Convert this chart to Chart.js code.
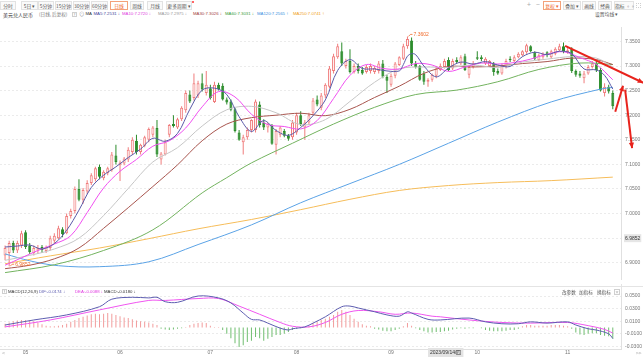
<!DOCTYPE html>
<html lang="zh-CN">
<head>
<meta charset="utf-8">
<title>美元兑人民币 日线</title>
<script src="https://cdn.jsdelivr.net/npm/chart.js@4.4.1/dist/chart.umd.min.js"></script>
<style>
  html, body { margin:0; padding:0; background:#fff; }
  body { width:643px; height:358px; position:relative; overflow:hidden;
         font-family:"Noto Sans CJK SC","Noto Sans",sans-serif; color:#333; }
  .a { position:absolute; white-space:nowrap; line-height:1; }
  .tab { position:absolute; top:1px; height:9px; box-sizing:border-box; border:1px solid #e2e2e2;
         background:#fafafa; font-size:4.8px; line-height:7px; color:#555; text-align:center; white-space:nowrap; }
  .sel { border-color:#f3a27a; color:#ef6428; background:#fff; }
  .leg { position:absolute; top:12px; font-family:"Liberation Sans",Arial,sans-serif; font-size:4.3px; line-height:1; white-space:nowrap; }
  .box { position:absolute; box-sizing:border-box; border:1px solid #cfcfcf; font-size:4px; line-height:3px; text-align:center; color:#888; }
  canvas { position:absolute; left:0; }
  .ln { position:absolute; background:#e4e4e4; }
</style>
</head>
<body>
<!-- toolbar -->
<div class="tab" style="left:0;width:16px">分时</div>
<div class="tab" style="left:21px;width:17px">5日 ▾</div>
<div class="tab" style="left:38px;width:16px">5分钟</div>
<div class="tab" style="left:55px;width:17px">15分钟</div>
<div class="tab" style="left:73px;width:17px">30分钟</div>
<div class="tab" style="left:91px;width:17px">60分钟</div>
<div class="tab sel" style="left:110px;width:18px">日线</div>
<div class="tab" style="left:130px;width:14px">周线</div>
<div class="tab" style="left:147px;width:16px">月线</div>
<div class="tab" style="left:166px;width:26px">更多周期 ▾</div>
<div style="position:absolute;left:192px;top:1px;width:2px;height:2px;border-radius:1px;background:#f33"></div>

<div class="a" style="left:527px;top:1px;font-size:7px;color:#aaa">+</div>
<div class="a" style="left:536px;top:1px;font-size:7px;color:#aaa">−</div>
<div class="tab sel" style="left:543px;width:18px">复权 ▾</div>
<div class="tab" style="left:563px;width:18px">叠加 ▾</div>
<div class="tab" style="left:582px;width:14px">画线</div>
<div class="tab" style="left:598px;width:14px">经典</div>
<div class="tab" style="left:614px;width:20px">指标 ◦◦</div>
<div class="box" style="left:636px;top:3px;width:5px;height:5px;border-style:dotted"></div>

<!-- legend row -->
<div class="a" style="left:3px;top:12px;font-size:5px;color:#333">美元兑人民币</div>
<div class="a" style="left:39px;top:12.4px;font-size:4.6px;color:#777">(日线, 后复权)</div>
<div class="box" style="left:72px;top:12px;width:5px;height:5px">?</div>
<div class="a" style="left:79px;top:11.6px;font-size:5.5px;color:#999">⊙</div>
<div class="leg" style="left:85.5px;color:#333">MA</div>
<div class="leg" style="left:93.5px;color:#3f3f9a">MA5:7.2531 ↓</div>
<div class="leg" style="left:122px;color:#e03ce0">MA10:7.2720 ↓</div>
<div class="leg" style="left:158px;color:#9a9a9a">MA20:7.2975 ↓</div>
<div class="leg" style="left:193px;color:#a33c3c">MA30:7.3026 ↓</div>
<div class="leg" style="left:225px;color:#3a9c3a">MA60:7.3031 ↓</div>
<div class="leg" style="left:257px;color:#3b8fe0">MA120:7.2565 ↑</div>
<div class="leg" style="left:293px;color:#f0a020">MA250:7.0741 ↑</div>
<div class="a" style="left:595px;top:12px;font-size:4.8px;color:#555">设置均线 ▾</div>

<canvas id="main" width="643" height="266" style="top:20px"></canvas>

<!-- MACD header -->
<div class="ln" style="left:0;top:286px;width:643px;height:1px"></div>
<div class="ln" style="left:621px;top:284px;width:1px;height:10px"></div>
<div class="box" style="left:2px;top:289px;width:5px;height:5px">?</div>
<div class="leg" style="left:8px;top:289.5px;color:#333">MACD(12,26,9)</div>
<div class="leg" style="left:39px;top:289.5px;color:#5d5db0">DIF:-0.0174 ↓</div>
<div class="leg" style="left:75px;top:289.5px;color:#e03ce0">DEA:-0.0088 ↓</div>
<div class="leg" style="left:104px;top:289.5px;color:#333">MACD:-0.0180 ↓</div>
<div class="a" style="left:562px;top:289.5px;font-size:4.6px;color:#555">改参数</div>
<div class="a" style="left:579px;top:289.5px;font-size:4.6px;color:#555">加指标</div>
<div class="a" style="left:597px;top:289.5px;font-size:4.6px;color:#555">换指标</div>
<div class="box" style="left:614px;top:289px;width:6px;height:6px;line-height:4px">×</div>

<canvas id="macd" width="643" height="72" style="top:286px"></canvas>
<div class="a" style="left:2px;top:350px;font-size:5px;color:#999">&lt;</div>
<div class="a" style="left:636px;top:350px;font-size:5px;color:#999">&gt;&gt;</div>

<script>
// ---------------- data ----------------
const startDate = '2023-04-24';
const nCandles = 149;
const monthLabels = ['05', '06', '07', '08', '09', '10', '11'];

const open = [
 6.915,6.920,6.940,6.925,6.935,6.962,6.935,6.920,6.925,6.932,
 6.924,6.930,6.945,6.950,6.968,6.960,6.995,7.005,7.050,7.028,
 7.045,7.062,7.070,7.095,7.072,7.082,7.088,7.118,7.098,7.102,
 7.110,7.125,7.148,7.125,7.138,7.150,7.160,7.174,7.110,7.120,
 7.160,7.182,7.175,7.192,7.210,7.242,7.235,7.240,7.265,7.245,
 7.255,7.227,7.262,7.260,7.232,7.228,7.212,7.165,7.145,7.155,
 7.170,7.170,7.222,7.185,7.175,7.178,7.140,7.160,7.168,7.158,
 7.155,7.165,7.200,7.175,7.185,7.205,7.232,7.215,7.240,7.258,
 7.290,7.318,7.330,7.300,7.310,7.288,7.300,7.292,7.288,7.290,
 7.288,7.290,7.305,7.278,7.262,7.280,7.302,7.315,7.340,7.352,
 7.305,7.300,7.285,7.268,7.272,7.280,7.292,7.298,7.312,7.295,
 7.312,7.305,7.320,7.282,7.298,7.318,7.318,7.305,7.300,7.305,
 7.290,7.285,7.298,7.315,7.310,7.318,7.322,7.328,7.340,7.328,
 7.312,7.318,7.328,7.318,7.325,7.332,7.340,7.328,7.335,7.290,
 7.285,7.275,7.285,7.298,7.305,7.292,7.245,7.258,7.245];
const high = [
 6.935,6.945,6.945,6.945,6.965,6.966,6.940,6.935,6.936,6.936,
 6.935,6.955,6.960,6.975,6.972,7.000,7.010,7.055,7.070,7.052,
 7.068,7.082,7.095,7.100,7.088,7.095,7.125,7.140,7.108,7.115,
 7.135,7.155,7.160,7.142,7.158,7.175,7.178,7.190,7.125,7.150,
 7.182,7.200,7.195,7.218,7.250,7.250,7.285,7.270,7.285,7.290,
 7.262,7.268,7.266,7.265,7.236,7.232,7.215,7.170,7.160,7.175,
 7.192,7.232,7.228,7.192,7.185,7.182,7.172,7.178,7.172,7.162,
 7.190,7.205,7.208,7.190,7.205,7.235,7.240,7.245,7.265,7.300,
 7.325,7.345,7.348,7.315,7.334,7.305,7.305,7.298,7.302,7.305,
 7.300,7.310,7.312,7.282,7.285,7.308,7.320,7.345,7.3602,7.358,
 7.310,7.302,7.290,7.275,7.285,7.300,7.305,7.315,7.318,7.315,
 7.318,7.322,7.325,7.300,7.310,7.330,7.322,7.318,7.312,7.308,
 7.295,7.305,7.315,7.320,7.322,7.328,7.332,7.345,7.342,7.330,
 7.325,7.328,7.330,7.333,7.338,7.345,7.348,7.338,7.338,7.293,
 7.290,7.290,7.302,7.310,7.312,7.296,7.265,7.262,7.250];
const low = [
 6.905,6.893,6.920,6.920,6.930,6.928,6.918,6.915,6.918,6.920,
 6.920,6.925,6.940,6.948,6.952,6.958,6.990,7.000,7.025,7.020,
 7.040,7.058,7.065,7.070,7.068,7.078,7.085,7.100,7.066,7.098,
 7.105,7.120,7.120,7.120,7.135,7.145,7.155,7.115,7.100,7.118,
 7.155,7.175,7.172,7.188,7.205,7.225,7.230,7.235,7.248,7.240,
 7.232,7.225,7.250,7.230,7.222,7.208,7.165,7.148,7.120,7.150,
 7.165,7.165,7.175,7.170,7.165,7.140,7.120,7.155,7.155,7.148,
 7.150,7.160,7.178,7.150,7.180,7.200,7.218,7.210,7.235,7.255,
 7.285,7.315,7.300,7.295,7.285,7.285,7.285,7.282,7.285,7.285,
 7.284,7.285,7.275,7.245,7.258,7.275,7.300,7.312,7.335,7.300,
 7.295,7.270,7.262,7.258,7.268,7.275,7.290,7.295,7.290,7.292,
 7.305,7.302,7.290,7.275,7.295,7.312,7.310,7.302,7.298,7.280,
 7.282,7.282,7.295,7.308,7.308,7.316,7.320,7.325,7.328,7.312,
 7.310,7.315,7.318,7.315,7.322,7.330,7.326,7.325,7.286,7.278,
 7.276,7.265,7.282,7.295,7.288,7.248,7.238,7.244,7.212];
const close = [
 6.930,6.940,6.925,6.940,6.960,6.932,6.922,6.930,6.930,6.926,
 6.932,6.950,6.955,6.970,6.958,6.995,7.005,7.050,7.028,7.048,
 7.062,7.078,7.092,7.075,7.085,7.092,7.120,7.105,7.104,7.112,
 7.130,7.150,7.125,7.140,7.155,7.172,7.175,7.120,7.122,7.145,
 7.180,7.178,7.192,7.215,7.245,7.228,7.265,7.265,7.252,7.262,
 7.235,7.262,7.253,7.232,7.226,7.211,7.168,7.150,7.155,7.170,
 7.190,7.228,7.180,7.175,7.182,7.142,7.168,7.175,7.158,7.152,
 7.185,7.200,7.182,7.185,7.200,7.230,7.222,7.240,7.262,7.295,
 7.320,7.340,7.305,7.310,7.288,7.300,7.290,7.285,7.298,7.300,
 7.296,7.305,7.278,7.270,7.280,7.305,7.318,7.340,7.355,7.305,
 7.298,7.272,7.268,7.272,7.282,7.295,7.300,7.310,7.292,7.310,
 7.308,7.318,7.292,7.298,7.305,7.315,7.314,7.315,7.310,7.288,
 7.285,7.300,7.310,7.312,7.318,7.325,7.330,7.342,7.330,7.315,
 7.322,7.325,7.322,7.330,7.335,7.340,7.330,7.332,7.290,7.282,
 7.280,7.285,7.298,7.305,7.292,7.250,7.258,7.248,7.218];

// moving averages at sample candles
const ma5Idx = [0,3,6,9,12,15,18,21,24,27,30,33,36,39,42,45,48,51,54,57,60,63,66,69,72,75,78,81,84,87,90,93,96,97,98,99,100,102,105,108,111,114,117,120,123,126,129,132,135,138,141,144,146,148];
const ma5 = [6.932,6.934,6.936,6.928,6.939,6.966,7.007,7.053,7.078,7.095,7.114,7.131,7.153,7.147,7.163,7.212,7.251,7.255,7.242,7.197,7.167,7.189,7.169,7.159,7.175,7.199,7.231,7.291,7.313,7.295,7.294,7.290,7.290,7.303,7.320,7.325,7.323,7.300,7.278,7.296,7.308,7.304,7.309,7.302,7.299,7.319,7.328,7.323,7.330,7.325,7.294,7.292,7.281,7.253];
const ma10Idx = [0,4,8,12,16,20,24,28,32,36,40,44,48,52,56,60,64,68,72,76,80,84,88,92,96,100,104,108,112,116,120,124,128,132,136,140,144,148];
const ma10 = [6.895,6.910,6.925,6.938,6.955,7.002,7.052,7.086,7.110,7.137,7.148,7.174,7.217,7.248,7.237,7.202,7.181,7.177,7.172,7.189,7.234,7.281,7.303,7.295,7.294,7.305,7.302,7.289,7.298,7.306,7.304,7.307,7.314,7.324,7.329,7.317,7.303,7.272];
const ma20Idx = [0,6,12,18,24,30,36,42,48,54,60,66,72,78,84,90,96,102,108,114,120,126,132,138,144,148];
const ma20 = [6.905,6.915,6.928,6.950,6.996,7.051,7.105,7.134,7.178,7.211,7.218,7.205,7.181,7.191,7.228,7.267,7.294,7.298,7.297,7.302,7.297,7.308,7.314,7.319,7.316,7.298];
const ma30Idx = [0,6,12,18,24,30,36,42,48,54,60,66,72,78,84,90,96,102,108,114,120,126,132,138,144,148];
const ma30 = [6.888,6.895,6.908,6.930,6.970,7.012,7.055,7.099,7.148,7.182,7.195,7.200,7.204,7.199,7.212,7.236,7.259,7.285,7.299,7.298,7.300,7.305,7.309,7.316,7.313,7.303];
const ma60Idx = [0,12,24,36,48,54,60,70,80,90,100,110,120,130,140,148];
const ma60 = [6.880,6.896,6.925,6.967,7.042,7.073,7.103,7.143,7.182,7.216,7.242,7.251,7.268,7.293,7.306,7.303];
const ma120Idx = [0,6,13,23,35,47,60,72,84,96,108,120,133,145,148];
const ma120 = [6.918,6.904,6.894,6.892,6.902,6.937,6.977,7.022,7.061,7.100,7.143,7.186,7.227,7.253,7.2565];
const ma250Idx = [0,11,23,35,47,60,72,84,96,108,120,133,148];
const ma250 = [6.898,6.914,6.930,6.949,6.969,6.988,7.008,7.029,7.047,7.057,7.063,7.067,7.0741];

// MACD panel
const difIdx = [0,7,15,23,26,31,35,37,39,42,47,52,55,58,60,62,64,67,69,70,73,75,78,82,84,86,90,93,96,98,99,103,106,113,117,121,125,128,132,137,139,142,144,147,148];
const dif = [0.004,0.012,0.020,0.033,0.045,0.048,0.047,0.048,0.041,0.040,0.050,0.047,0.039,0.023,0.013,0.012,0.007,-0.001,-0.004,-0.002,0.001,0.007,0.017,0.033,0.034,0.031,0.025,0.020,0.018,0.025,0.023,0.013,0.012,0.015,0.009,0.006,0.006,0.009,0.007,0.009,0.004,-0.002,-0.004,-0.010,-0.0174];
const deaIdx = [0,11,23,35,39,47,52,57,62,67,70,74,78,82,86,91,95,99,104,106,113,121,128,137,142,146,148];
const dea = [0.001,0.012,0.028,0.043,0.043,0.046,0.046,0.034,0.021,0.008,0.002,0.001,0.008,0.021,0.027,0.025,0.021,0.023,0.018,0.017,0.012,0.008,0.007,0.008,0.003,-0.003,-0.0088];
const macdHist = [
 0.006,0.008,0.010,0.011,0.012,0.012,0.011,0.010,0.008,0.005,
 0.003,0.002,0.002,0.003,0.004,0.006,0.009,0.012,0.015,0.017,
 0.019,0.021,0.022,0.021,0.022,0.023,0.022,0.020,0.018,0.016,
 0.015,0.013,0.011,0.010,0.009,0.008,0.006,0.004,-0.002,-0.003,
 -0.004,-0.003,-0.002,-0.001,0.001,0.004,0.006,0.007,0.008,0.007,
 0.003,0.001,0.001,-0.004,-0.010,-0.017,-0.025,-0.031,-0.028,-0.023,
 -0.021,-0.015,-0.017,-0.021,-0.018,-0.015,-0.012,-0.012,-0.010,-0.007,
 -0.004,-0.002,-0.001,0.001,0.003,0.007,0.009,0.012,0.014,0.017,
 0.020,0.025,0.028,0.025,0.020,0.014,0.009,0.005,0.003,0.002,
 -0.002,-0.003,-0.005,-0.006,-0.006,-0.004,-0.002,0.002,0.007,0.003,
 -0.001,-0.004,-0.006,-0.008,-0.008,-0.007,-0.007,-0.006,-0.005,-0.003,
 -0.002,-0.001,-0.002,-0.001,-0.001,0.000,-0.001,-0.004,-0.005,-0.006,
 -0.006,-0.006,-0.005,-0.004,-0.004,-0.002,0.002,0.004,0.004,0.003,
 0.003,0.003,0.003,0.004,0.004,0.004,0.003,0.002,-0.002,-0.008,
 -0.011,-0.012,-0.010,-0.009,-0.009,-0.012,-0.013,-0.014,-0.018];

// axis ticks and annotation texts
const priceTicks = [6.90, 6.95, 7.00, 7.05, 7.10, 7.15, 7.20, 7.25, 7.30, 7.35];
const macdTicks = [0.05, 0.03, 0.01, -0.01, -0.03];
const axisMarkTick = 6.95, axisMarkText = '6.9852';
const highText = '7.3602', lowText = '6.9852';
const crossDateISO = '2023-09-14', crossDateText = '2023/09/14/四';
// hand-drawn red arrows: [fromIndex, fromValue, toIndex, toValue]
const redArrows = [[136.4, 7.341, 155.4, 7.266], [148.6, 7.207, 150.5, 7.260], [151.0, 7.252, 152.7, 7.133]];

// ---------------- derived ----------------
const dates = [];
(function () {
  const d = new Date(startDate + 'T00:00:00Z');
  while (dates.length < nCandles) {
    const w = d.getUTCDay();
    if (w !== 0 && w !== 6) dates.push(d.toISOString().slice(0, 10));
    d.setUTCDate(d.getUTCDate() + 1);
  }
})();
const monthIdx = monthLabels.map(m => dates.findIndex(s => s.slice(5, 7) === m));
const crossIdx = dates.indexOf(crossDateISO);
const X_MIN = -1.23, X_MAX = 150.0;

const UP = '#f07c7c', DOWN = '#2b8c2b';
const isUp = i => close[i] >= open[i];
const pts = (idx, vals) => idx.map((x, k) => ({ x, y: vals[k] }));
const FONT = '"Liberation Sans", Arial, sans-serif';

function maLine(label, idx, vals, color) {
  return { type: 'line', label, data: pts(idx, vals), borderColor: color, borderWidth: 1,
           pointRadius: 0, tension: 0.35, order: 0, clip: 2 };
}

Chart.defaults.font.family = FONT;

function arrow(ctx, x1, y1, x2, y2) {
  ctx.beginPath(); ctx.moveTo(x1, y1); ctx.lineTo(x2, y2); ctx.stroke();
  const a = Math.atan2(y2 - y1, x2 - x1), s = 6;
  ctx.beginPath();
  ctx.moveTo(x2, y2);
  ctx.lineTo(x2 - s * Math.cos(a - 0.45), y2 - s * Math.sin(a - 0.45));
  ctx.lineTo(x2 - s * Math.cos(a + 0.45), y2 - s * Math.sin(a + 0.45));
  ctx.closePath(); ctx.fill();
}

const annotPlugin = {
  id: 'annot',
  afterDraw(chart) {
    const { ctx, scales: { x, y } } = chart;
    const hi = high.indexOf(Math.max(...high));
    const lo = low.indexOf(Math.min(...low));
    ctx.save();
    ctx.font = '5px ' + FONT;
    ctx.textBaseline = 'middle';
    ctx.strokeStyle = ctx.fillStyle = '#f06a2a';
    ctx.lineWidth = 0.8;
    let px = x.getPixelForValue(hi), py = y.getPixelForValue(high[hi]);
    ctx.beginPath(); ctx.moveTo(px + 1, py); ctx.lineTo(px + 3, py - 2); ctx.lineTo(px + 5, py - 2); ctx.stroke();
    ctx.fillText(highText, px + 6, py - 2);
    px = x.getPixelForValue(lo); py = y.getPixelForValue(low[lo]);
    ctx.beginPath(); ctx.moveTo(px + 1, py); ctx.lineTo(px + 3, py - 2); ctx.lineTo(px + 5, py - 2); ctx.stroke();
    ctx.fillText(lowText, px + 6, py - 2);
    ctx.strokeStyle = ctx.fillStyle = '#e8231c';
    ctx.lineWidth = 2;
    redArrows.forEach(a => arrow(ctx, x.getPixelForValue(a[0]), y.getPixelForValue(a[1]),
                                       x.getPixelForValue(a[2]), y.getPixelForValue(a[3])));
    ctx.restore();
  }
};

new Chart(document.getElementById('main'), {
  type: 'bar',
  data: {
    datasets: [
      maLine('MA5', ma5Idx, ma5, '#5a5aa8'),
      maLine('MA10', ma10Idx, ma10, '#f04ff0'),
      maLine('MA20', ma20Idx, ma20, '#c6c6c6'),
      maLine('MA30', ma30Idx, ma30, '#a8554e'),
      maLine('MA60', ma60Idx, ma60, '#73b35f'),
      maLine('MA120', ma120Idx, ma120, '#5ba3e6'),
      maLine('MA250', ma250Idx, ma250, '#f6bd5a'),
      { type: 'bar', label: 'body', order: 2, grouped: false, barThickness: 3, inflateAmount: 0,
        data: close.map((c, i) => ({ x: i, y: [open[i], c] })),
        backgroundColor: close.map((c, i) => isUp(i) ? '#fff6f6' : DOWN),
        borderColor: close.map((c, i) => isUp(i) ? UP : DOWN),
        borderWidth: 1, borderSkipped: false },
      { type: 'bar', label: 'wick', order: 3, grouped: false, barThickness: 1, inflateAmount: 0,
        data: close.map((c, i) => ({ x: i, y: [low[i], high[i]] })),
        backgroundColor: close.map((c, i) => isUp(i) ? UP : DOWN), borderWidth: 0 }
    ]
  },
  options: {
    responsive: false, animation: false, devicePixelRatio: 1, events: [],
    layout: { padding: { left: 0, right: 0, top: 2, bottom: 2 } },
    plugins: { legend: { display: false }, tooltip: { enabled: false } },
    scales: {
      x: { type: 'linear', min: X_MIN, max: X_MAX, display: false, offset: false },
      y: { position: 'right', min: 6.867, max: 7.3793,
           afterFit(s) { s.width = 22; },
           afterBuildTicks(s) { s.ticks = priceTicks.map(v => ({ value: v })); },
           grid: { color: '#ebebeb', drawTicks: false },
           border: { display: true, color: '#e0e0e0', dash: [2, 2] },
           ticks: { padding: 4, color: c => Math.abs(c.tick.value - axisMarkTick) < 1e-6 ? '#333' : '#777',
                    font: { size: 5 },
                    showLabelBackdrop: c => Math.abs(c.tick.value - axisMarkTick) < 1e-6,
                    backdropColor: '#e6e6e6', backdropPadding: { x: 1, y: 1 },
                    callback: v => Math.abs(v - axisMarkTick) < 1e-6 ? axisMarkText : Number(v).toFixed(4) } }
    }
  },
  plugins: [annotPlugin]
});

const crossPlugin = {
  id: 'cross',
  afterDraw(chart) {
    const { ctx, scales: { x } } = chart;
    const px = x.getPixelForValue(crossIdx);
    ctx.save();
    ctx.font = '5px ' + FONT;
    const w = ctx.measureText(crossDateText).width + 4;
    ctx.fillStyle = '#e3e3e3';
    ctx.fillRect(px, 62, w, 9);
    ctx.fillStyle = '#333';
    ctx.textBaseline = 'middle';
    ctx.fillText(crossDateText, px + 2, 66.5);
    ctx.restore();
  }
};

new Chart(document.getElementById('macd'), {
  type: 'bar',
  data: {
    datasets: [
      { type: 'line', label: 'DIF', data: pts(difIdx, dif), borderColor: '#5d5db0', borderWidth: 1,
        pointRadius: 0, tension: 0.35, order: 0 },
      { type: 'line', label: 'DEA', data: pts(deaIdx, dea), borderColor: '#f055f0', borderWidth: 1,
        pointRadius: 0, tension: 0.35, order: 1 },
      { type: 'bar', label: 'MACD', order: 2, grouped: false, barThickness: 1, inflateAmount: 0,
        data: macdHist.map((v, i) => ({ x: i, y: v })),
        backgroundColor: macdHist.map(v => v >= 0 ? '#f29c9c' : '#6fbd6f') }
    ]
  },
  options: {
    responsive: false, animation: false, devicePixelRatio: 1, events: [],
    layout: { padding: { left: 0, right: 0, top: 7, bottom: 0 } },
    plugins: { legend: { display: false }, tooltip: { enabled: false } },
    scales: {
      x: { type: 'linear', min: X_MIN, max: X_MAX, offset: false,
           afterFit(s) { s.height = 9; },
           afterBuildTicks(s) { s.ticks = monthIdx.map(v => ({ value: v })); },
           grid: { display: false, drawTicks: false },
           border: { display: true, color: '#e0e0e0' },
           ticks: { autoSkip: false, maxRotation: 0, padding: 1, color: '#777', font: { size: 5 },
                    callback: v => monthLabels[monthIdx.indexOf(v)] } },
      y: { position: 'right', min: -0.0341, max: 0.0548,
           afterFit(s) { s.width = 22; },
           afterBuildTicks(s) { s.ticks = macdTicks.map(v => ({ value: v })); },
           grid: { color: '#ebebeb', drawTicks: false },
           border: { display: true, color: '#e0e0e0', dash: [2, 2] },
           ticks: { padding: 4, color: '#777', font: { size: 5 }, callback: v => Number(v).toFixed(4) } }
    }
  },
  plugins: [crossPlugin]
});
</script>
</body>
</html>
